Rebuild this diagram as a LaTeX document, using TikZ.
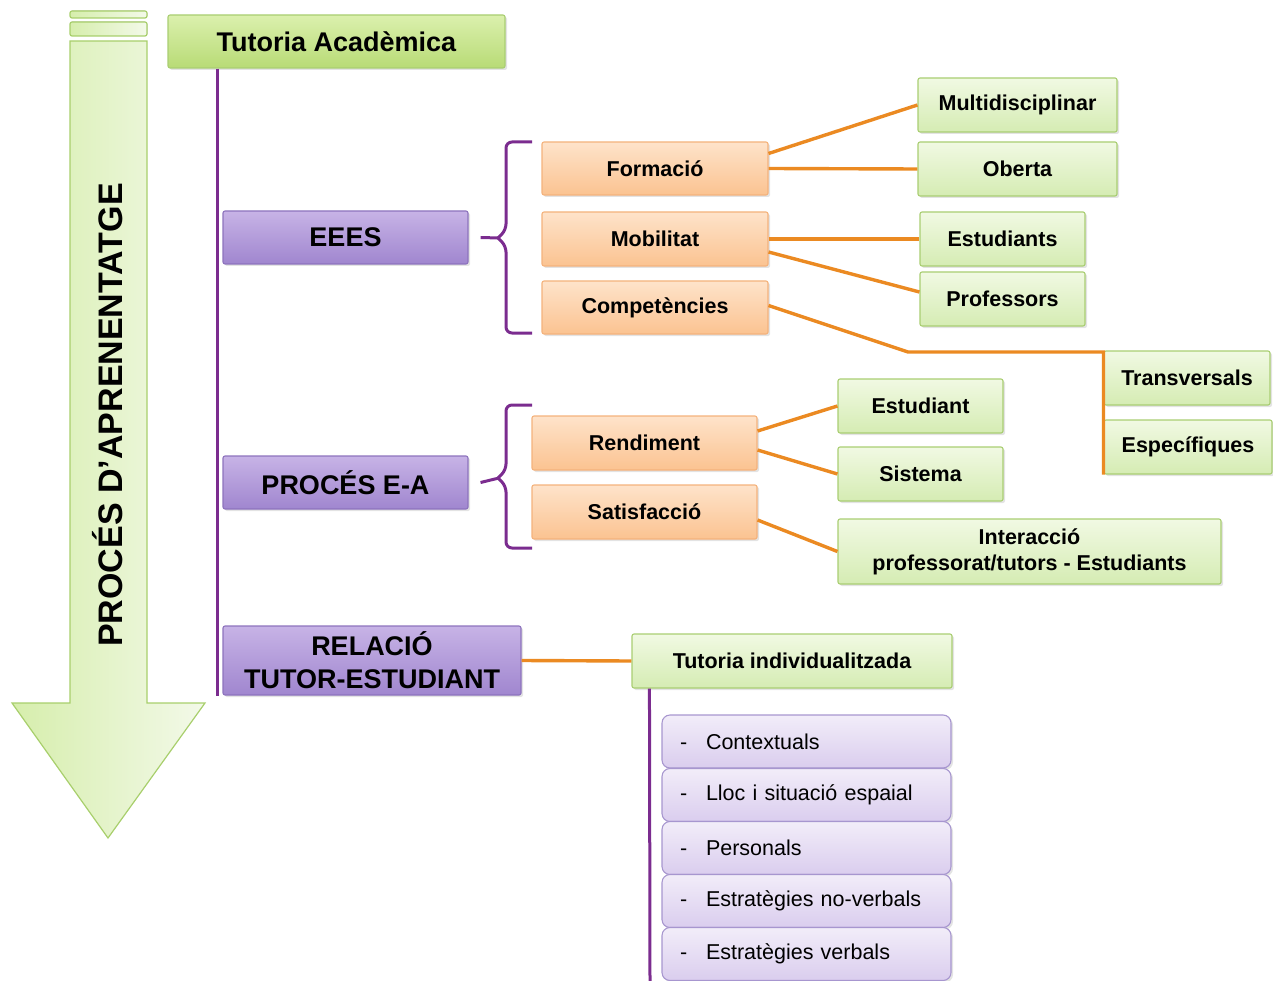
\documentclass[tikz,border=0pt]{standalone}
\usepackage{fontspec}
\setmainfont{Liberation Sans}
\usetikzlibrary{shadows,calc}

\definecolor{tatop}{HTML}{DBF0AD}
\definecolor{tabot}{HTML}{B8DB76}
\definecolor{gtop}{HTML}{F1F9E3}
\definecolor{gbot}{HTML}{D5ECB3}
\definecolor{gborder}{HTML}{A9CE72}
\definecolor{otop}{HTML}{FEE3CA}
\definecolor{obot}{HTML}{FBC391}
\definecolor{oborder}{HTML}{F4B27C}
\definecolor{ptop}{HTML}{C7B3E6}
\definecolor{pbot}{HTML}{A086CF}
\definecolor{pborder}{HTML}{8D73BD}
\definecolor{ltop}{HTML}{F2EDF9}
\definecolor{lbot}{HTML}{DACDEE}
\definecolor{lborder}{HTML}{A796CF}
\definecolor{oline}{HTML}{EB8A22}
\definecolor{pline}{HTML}{7B2C8F}
\definecolor{arrowL}{HTML}{D6EEAC}
\definecolor{arrowR}{HTML}{F3F9E9}
\definecolor{arrowB}{HTML}{A8CF6C}

\begin{document}
\begin{tikzpicture}[x=1pt,y=-1pt,
  box/.style={draw, line width=1.1pt, rounded corners=2pt, inner sep=0pt, align=center,
    drop shadow={opacity=0.22, shadow xshift=2pt, shadow yshift=-2pt},
    font=\bfseries\fontsize{21.5}{26}\selectfont},
  tabox/.style={box, draw=gborder, top color=tatop, bottom color=tabot,
    font=\bfseries\fontsize{27}{32}\selectfont},
  gbox/.style={box, draw=gborder, top color=gtop, bottom color=gbot},
  obox/.style={box, draw=oborder, top color=otop, bottom color=obot},
  pbox/.style={box, draw=pborder, top color=ptop, bottom color=pbot,
    font=\bfseries\fontsize{27}{33}\selectfont},
  lbox/.style={box, draw=lborder, top color=ltop, bottom color=lbot, rounded corners=8pt,
    minimum width=289pt, minimum height=53pt, text width=253pt, align=left,
    font=\fontsize{21.5}{26}\selectfont},
  oconn/.style={draw=oline, line width=3.4pt},
  pconn/.style={draw=pline, line width=3pt},
  brace/.style={draw=pline, line width=3pt, rounded corners=6pt}
]
\useasboundingbox (0,0) rectangle (1273,981);

% big downward arrow
\fill[draw=arrowB, line width=1.2pt, left color=arrowL, right color=arrowR, rounded corners=2pt]
  (70,11) rectangle (147,18);
\fill[draw=arrowB, line width=1.2pt, left color=arrowL, right color=arrowR, rounded corners=2pt]
  (70,22) rectangle (147,36);
\path[draw=arrowB, line width=1.2pt, left color=arrowL, right color=arrowR]
  (70,41) -- (147,41) -- (147,703) -- (205,703) -- (108,838) -- (12,703) -- (70,703) -- cycle;
\node[rotate=90, font=\bfseries\fontsize{34}{40}\selectfont] (proces) at (108,415) {PROCÉS D’APRENENTATGE};

% main nodes
\node[tabox, minimum width=337pt, minimum height=53pt] (ta) at (336.5,41.5) {Tutoria Acadèmica};
\node[pbox, minimum width=245pt, minimum height=53pt] (eees) at (345.5,237.5) {EEES};
\node[pbox, minimum width=245pt, minimum height=53pt] (pea) at (345.5,482.5) {PROCÉS E-A};
\node[pbox, minimum width=298pt, minimum height=69pt] (rel) at (372,660.5) {RELACIÓ\\TUTOR-ESTUDIANT};

% EEES branch
\node[obox, minimum width=226pt, minimum height=53pt] (form) at (655,168.5) {Formació};
\node[obox, minimum width=226pt, minimum height=54pt] (mob) at (655,239) {Mobilitat};
\node[obox, minimum width=226pt, minimum height=53pt] (comp) at (655,307.5) {Competències};
\node[gbox, minimum width=199pt, minimum height=54pt] (multi) at (1017.5,105) {Multidisciplinar};
\node[gbox, minimum width=199pt, minimum height=54pt] (obert) at (1017.5,169) {Oberta};
\node[gbox, minimum width=165pt, minimum height=54pt] (estus) at (1002.5,239) {Estudiants};
\node[gbox, minimum width=165pt, minimum height=54pt] (prof) at (1002.5,299) {Professors};
\node[gbox, minimum width=166pt, minimum height=54pt] (trans) at (1187,378) {Transversals};
\node[gbox, minimum width=168pt, minimum height=54pt] (espec) at (1188,447) {Específiques};

% PROCES E-A branch
\node[obox, minimum width=225pt, minimum height=54pt] (rend) at (644.5,443) {Rendiment};
\node[obox, minimum width=225pt, minimum height=54pt] (satis) at (644.5,512) {Satisfacció};
\node[gbox, minimum width=165pt, minimum height=54pt] (estu) at (920.5,406) {Estudiant};
\node[gbox, minimum width=165pt, minimum height=54pt] (sist) at (920.5,474) {Sistema};
\node[gbox, minimum width=383pt, minimum height=65pt] (inter) at (1029.5,551.5) {Interacció\\professorat/tutors - Estudiants};

% RELACIO branch
\node[gbox, minimum width=320pt, minimum height=54pt] (ti) at (792,661) {Tutoria individualitzada};
\node[lbox] (l1) at (806.5,741.5) {\makebox[26pt][l]{-}Contextuals};
\node[lbox] (l2) at (806.5,795) {\makebox[26pt][l]{-}Lloc i situació espaial};
\node[lbox] (l3) at (806.5,848) {\makebox[26pt][l]{-}Personals};
\node[lbox] (l4) at (806.5,901) {\makebox[26pt][l]{-}Estratègies no-verbals};
\node[lbox] (l5) at (806.5,954) {\makebox[26pt][l]{-}Estratègies verbals};

% purple spines
\draw[pconn] ([xshift=50pt]ta.south west) -- ([xshift=50pt]ta.south west |- rel.south);
\coordinate (tiend) at (650,981);
\draw[pconn] ([xshift=18pt]ti.south west) -- (tiend);

% braces
\coordinate (b1top) at (532,142);
\coordinate (b1bot) at (532,333);
\draw[brace] (498,238) -- (506,230) -- (506,142) -- (b1top);
\draw[brace] (498,238) -- (506,246) -- (506,333) -- (b1bot);
\draw[pconn] ([xshift=12pt]eees.east) -- (499,238);
\coordinate (b2top) at (532,405);
\coordinate (b2bot) at (532,548);
\draw[brace] (498,478) -- (506,470) -- (506,405) -- (b2top);
\draw[brace] (498,478) -- (506,486) -- (506,548) -- (b2bot);
\draw[pconn] ([xshift=12pt]pea.east) -- (499,478);

% orange connectors
\draw[oconn] ([yshift=15pt]form.east) -- (multi.west);
\draw[oconn] (form.east) -- (obert.west);
\draw[oconn] (mob.east) -- (estus.west);
\draw[oconn] ([yshift=-13pt]mob.east) -- ([yshift=7pt]prof.west);
\coordinate (cbend) at (908,352);
\draw[oconn] ([yshift=2pt]comp.east) -- (cbend) -- (cbend -| trans.west) -- (espec.south west -| trans.west);
\draw[oconn] ([yshift=12pt]rend.east) -- (estu.west);
\draw[oconn] ([yshift=-7pt]rend.east) -- (sist.west);
\draw[oconn] ([yshift=-8pt]satis.east) -- (inter.west);
\draw[oconn] (rel.east) -- (ti.west);
\end{tikzpicture}
\end{document}
